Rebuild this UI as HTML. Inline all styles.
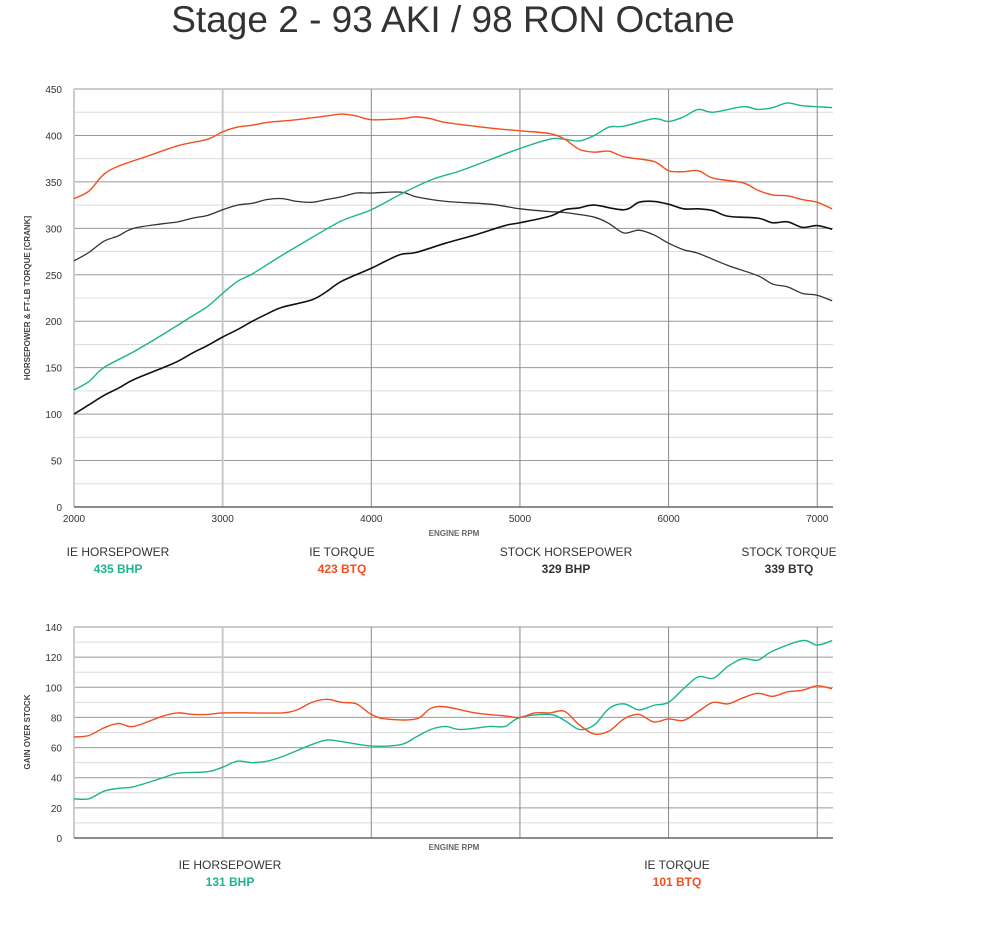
<!DOCTYPE html>
<html><head><meta charset="utf-8"><style>
body{margin:0;background:#fff;width:990px;height:936px;overflow:hidden;font-family:"Liberation Sans",sans-serif}
</style></head><body>
<svg id="s" width="990" height="936" xmlns="http://www.w3.org/2000/svg" font-family="Liberation Sans, sans-serif">
<text x="453" y="32" font-size="37" text-anchor="middle" fill="#333">Stage 2 - 93 AKI / 98 RON Octane</text>
<g id="g"></g>
<text x="30" y="298" font-size="8" font-weight="bold" fill="#444" text-anchor="middle" transform="rotate(-90 30 298)">HORSEPOWER &amp; FT-LB TORQUE [CRANK]</text>
<text x="454" y="536" font-size="8" font-weight="bold" fill="#666" text-anchor="middle">ENGINE RPM</text>
<text x="30" y="732" font-size="8" font-weight="bold" fill="#444" text-anchor="middle" transform="rotate(-90 30 732)">GAIN OVER STOCK</text>
<text x="454" y="850" font-size="8" font-weight="bold" fill="#666" text-anchor="middle">ENGINE RPM</text>
<g font-size="12" text-anchor="middle">
<text x="118" y="556" fill="#333">IE HORSEPOWER</text><text x="118" y="573" fill="#1cb38f" font-weight="bold">435 BHP</text>
<text x="342" y="556" fill="#333">IE TORQUE</text><text x="342" y="573" fill="#f24e1e" font-weight="bold">423 BTQ</text>
<text x="566" y="556" fill="#333">STOCK HORSEPOWER</text><text x="566" y="573" fill="#333" font-weight="bold">329 BHP</text>
<text x="789" y="556" fill="#333">STOCK TORQUE</text><text x="789" y="573" fill="#333" font-weight="bold">339 BTQ</text>
<text x="230" y="869" fill="#333">IE HORSEPOWER</text><text x="230" y="886" fill="#1cb38f" font-weight="bold">131 BHP</text>
<text x="677" y="869" fill="#333">IE TORQUE</text><text x="677" y="886" fill="#f24e1e" font-weight="bold">101 BTQ</text>
</g>
</svg>
<script>
const NS="http://www.w3.org/2000/svg",g=document.getElementById('g');
function el(t,a,txt){const e=document.createElementNS(NS,t);for(const k in a)e.setAttribute(k,a[k]);if(txt!=null)e.textContent=txt;g.appendChild(e);return e;}
const X=r=>74+(r-2000)*0.14865;
function chart(top,bot,max,step,minor,lab,data,ticks){
  const Y=v=>bot-(bot-top)*v/max;
  for(let v=0;v<=max;v+=minor){const maj=Math.abs(v/step-Math.round(v/step))<1e-6;
    el('line',{x1:74,x2:833,y1:Y(v),y2:Y(v),stroke:maj?'#9a9a9a':'#dcdcdc','stroke-width':1});
    if(maj)el('text',{x:62,y:Y(v)+4,'font-size':10,'text-anchor':'end',fill:'#333'},v);}
  el('line',{x1:74,x2:74,y1:top,y2:bot,stroke:'#ccc','stroke-width':2});
  el('line',{x1:X(3000),x2:X(3000),y1:top,y2:bot,stroke:'#c8c8c8','stroke-width':2});
  for(let r=4000;r<=7000;r+=1000)el('line',{x1:X(r),x2:X(r),y1:top,y2:bot,stroke:'#888','stroke-width':1});
  el('line',{x1:74,x2:833,y1:bot,y2:bot,stroke:'#666','stroke-width':1.5});
  if(ticks)for(let r=2000;r<=7000;r+=1000)el('text',{x:X(r),y:bot+15,'font-size':10,'text-anchor':'middle',fill:'#333'},r);
  for(const [col,w,arr] of data){const p=[];for(let i=0;i<arr.length;i+=2)p.push([X(arr[i]),Y(arr[i+1])]);
    let d='M'+p[0][0]+' '+p[0][1];
    for(let i=0;i<p.length-1;i++){const p0=p[i-1]||p[i],p1=p[i],p2=p[i+1],p3=p[i+2]||p2;
      d+=` C${p1[0]+(p2[0]-p0[0])/6} ${p1[1]+(p2[1]-p0[1])/6} ${p2[0]-(p3[0]-p1[0])/6} ${p2[1]-(p3[1]-p1[1])/6} ${p2[0]} ${p2[1]}`;}
    el('path',{d:d,fill:'none',stroke:col,'stroke-width':w});}
}
const ieT=[2000,332,2100,340,2200,358,2300,367,2500,378,2700,389,2900,396,3000,404,3100,409,3200,411,3300,414,3500,417,3700,421,3800,423,3900,421,4000,417,4200,418,4300,420,4400,418,4500,414,4800,408,5000,405,5200,402,5300,396,5400,385,5500,382,5600,383,5700,377,5900,372,6000,362,6100,361,6200,362,6300,354,6500,349,6600,341,6700,336,6800,335,6900,331,7000,328,7100,321];
const ieH=[2000,126,2100,135,2200,150,2400,167,2600,186,2800,206,2900,216,3000,230,3100,243,3200,251,3400,271,3600,290,3800,308,4000,320,4200,337,4400,352,4600,362,4800,374,5000,386,5200,396,5300,396,5400,394,5500,400,5600,409,5700,410,5900,418,6000,415,6100,420,6200,428,6300,425,6500,431,6600,428,6700,430,6800,435,6900,432,7100,430];
const sT=[2000,265,2100,274,2200,286,2300,292,2400,300,2600,305,2700,307,2800,311,2900,314,3000,320,3100,325,3200,327,3300,331,3400,332,3500,329,3600,328,3700,331,3800,334,3900,338,4000,338,4200,339,4300,334,4500,329,4800,326,5000,321,5200,318,5300,317,5500,312,5600,305,5700,295,5800,298,5900,293,6000,284,6100,277,6200,273,6400,260,6600,249,6700,240,6800,237,6900,230,7000,228,7100,222];
const sH=[2000,100,2100,110,2200,120,2300,128,2400,137,2600,150,2700,157,2800,166,2900,174,3000,183,3100,191,3200,200,3300,208,3400,215,3600,223,3700,232,3800,243,4000,257,4100,265,4200,272,4300,274,4500,284,4700,293,4900,303,5000,306,5200,313,5300,320,5400,322,5500,325,5700,320,5800,328,5900,329,6000,326,6100,321,6200,321,6300,319,6400,313,6600,311,6700,306,6800,307,6900,301,7000,303,7100,299];
chart(89,507,450,50,25,'',[['#333',1.3,sT],['#111',1.6,sH],['#1cb38f',1.4,ieH],['#f24e1e',1.4,ieT]],true);
const gH=[2000,26,2100,26,2200,31,2300,33,2400,34,2600,40,2700,43,2900,44,3000,47,3100,51,3200,50,3300,51,3400,54,3600,62,3700,65,3800,64,4000,61,4200,62,4300,67,4400,72,4500,74,4600,72,4800,74,4900,74,5000,80,5200,82,5300,78,5400,72,5500,75,5600,86,5700,89,5800,85,5900,88,6000,90,6100,99,6200,107,6300,106,6400,114,6500,119,6600,118,6700,124,6900,131,7000,128,7100,131];
const gT=[2000,67,2100,68,2200,73,2300,76,2400,74,2600,81,2700,83,2800,82,2900,82,3000,83,3200,83,3400,83,3500,85,3600,90,3700,92,3800,90,3900,89,4000,82,4100,79,4300,79,4400,86,4500,87,4700,83,4900,81,5000,80,5100,83,5200,83,5300,84,5400,75,5500,69,5600,71,5700,79,5800,82,5900,77,6000,79,6100,78,6200,84,6300,90,6400,89,6500,93,6600,96,6700,94,6800,97,6900,98,7000,101,7100,99];
chart(627,838,140,20,10,'',[['#1cb38f',1.4,gH],['#f24e1e',1.4,gT]],false);
</script>
</body></html>
